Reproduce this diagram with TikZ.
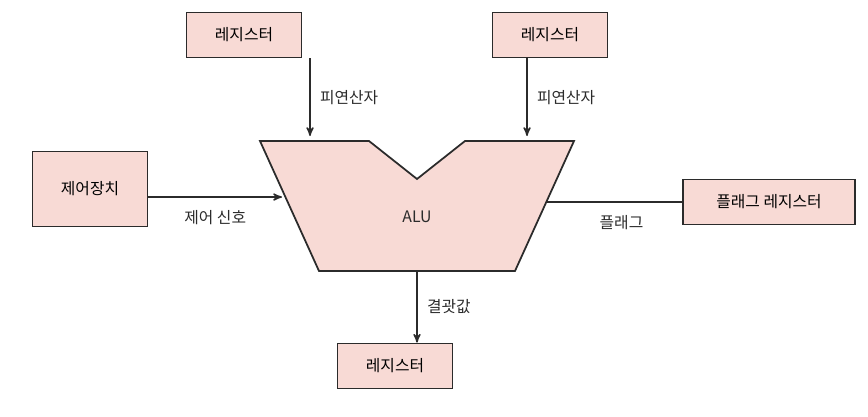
\documentclass[tikz,border=0pt]{standalone}
\usepackage{fontspec}
\setmainfont{Noto Sans CJK KR}
\usetikzlibrary{arrows,positioning}
\definecolor{boxpink}{HTML}{F8DAD5}
\definecolor{inkgray}{HTML}{2B2B2B}
\tikzstyle{regbox} = [rectangle, minimum width=2.3cm, minimum height=0.9cm, fill=boxpink, draw=inkgray, line width=1pt, font=\small, align=center]
\tikzstyle{arrow} = [line width=0.8pt, draw=inkgray, ->, >=stealth']
\tikzstyle{lbl} = [font=\small, text=inkgray]

\begin{document}
\begin{tikzpicture}[x=0.02cm, y=-0.02cm]
  \useasboundingbox (0,0) rectangle (868,416);
  \node (regA) [regbox] at (244,35) {레지스터};
  \node (regB) [regbox] at (550,35) {레지스터};
  \node (ctrl) [regbox, minimum width=2.3cm, minimum height=1.5cm] at (90,189) {제어장치};
  \node (flagreg) [regbox, minimum width=3.45cm] at (769,202) {플래그 레지스터};
  \node (regC) [regbox] at (395,366) {레지스터};

  % ALU
  \draw[fill=boxpink, draw=inkgray, line width=1pt] (260,141) -- (369,141) -- (417,179)
    -- (465,141) -- (574,141) -- (515,271) -- (319,271) -- cycle;
  \node (alu) [lbl] at (417,217) {ALU};
  \coordinate (inA) at (310,136);
  \coordinate (inB) at (527,136);
  \coordinate (inCtrl) at (282,197);
  \coordinate (outFlag) at (547,202);
  \coordinate (outRes) at (417,271);

  \draw[arrow] (regA.south -| inA) -- node[lbl, right=2pt]{피연산자} (inA);
  \draw[arrow] (regB.south -| inB) -- node[lbl, right=2pt]{피연산자} (inB);
  \draw[arrow] (ctrl.east |- inCtrl) -- node[lbl, below=4pt]{제어 신호} (inCtrl);
  \draw[line width=0.8pt, draw=inkgray] (outFlag) -- node[lbl, below=4pt, xshift=4pt]{플래그} (flagreg.west |- outFlag);
  \draw[arrow] (outRes) -- node[lbl, right=2pt]{결괏값} (regC.north -| outRes);
\end{tikzpicture}
\end{document}
